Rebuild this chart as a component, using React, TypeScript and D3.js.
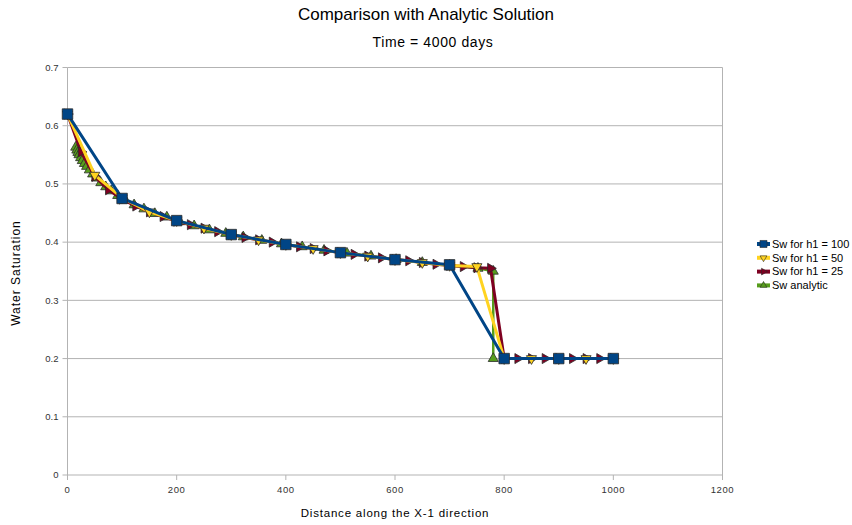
import React from "react";
import * as d3 from "d3";

const W = 852;
const H = 525;

const titleText = "Comparison with Analytic Solution";
const subtitleText = "Time = 4000 days";
const xLabel = "Distance along the X-1 direction";
const yLabel = "Water Saturation";

const xTicks = [0, 200, 400, 600, 800, 1000, 1200];
const yTicks = [0, 0.1, 0.2, 0.3, 0.4, 0.5, 0.6, 0.7];

// Grid block size h1 = 100
const xH100 = [0, 100, 200, 300, 400, 500, 600, 700, 800, 900, 1000];
const swH100 = [0.62, 0.475, 0.437, 0.413, 0.396, 0.382, 0.37, 0.361, 0.2, 0.2, 0.2];

// Grid block size h1 = 50
const xH50 = [0, 50, 100, 150, 200, 250, 300, 350, 400, 450, 500, 550, 600, 650, 700, 750, 800, 850, 900, 950, 1000];
const swH50 = [0.62, 0.515, 0.476, 0.452, 0.437, 0.424, 0.413, 0.404, 0.396, 0.389, 0.382, 0.376, 0.37, 0.365, 0.36, 0.358, 0.2, 0.2, 0.2, 0.2, 0.2];

// Grid block size h1 = 25
const xH25 = [0, 25, 50, 75, 100, 125, 150, 175, 200, 225, 250, 275, 300, 325, 350, 375, 400, 425, 450, 475, 500, 525, 550, 575, 600, 625, 650, 675, 700, 725, 750, 775, 800, 825, 850, 875, 900, 925, 950, 975, 1000];
const swH25 = [0.62, 0.555, 0.513, 0.49, 0.474, 0.462, 0.452, 0.444, 0.436, 0.43, 0.424, 0.418, 0.413, 0.408, 0.404, 0.4, 0.396, 0.392, 0.389, 0.385, 0.382, 0.379, 0.376, 0.373, 0.37, 0.368, 0.365, 0.362, 0.36, 0.358, 0.356, 0.355, 0.2, 0.2, 0.2, 0.2, 0.2, 0.2, 0.2, 0.2, 0.2];

// Analytic (Buckley-Leverett) profile
const xAnalytic = [15, 17, 19, 21, 24, 27, 31, 35, 40, 46, 53, 61, 70, 80, 92, 106, 122, 140, 160, 182, 206, 232, 260, 290, 322, 356, 392, 430, 470, 512, 556, 602, 650, 700, 752, 780, 780];
const swAnalytic = [0.563, 0.558, 0.554, 0.55, 0.545, 0.54, 0.535, 0.53, 0.524, 0.517, 0.51, 0.502, 0.495, 0.488, 0.48, 0.472, 0.464, 0.457, 0.449, 0.443, 0.435, 0.428, 0.421, 0.415, 0.409, 0.403, 0.397, 0.392, 0.386, 0.381, 0.376, 0.37, 0.365, 0.36, 0.355, 0.35, 0.2];

type Series = {
  name: string;
  xs: number[];
  ys: number[];
  color: string;
  symbol: d3.SymbolType;
  size: number;
  rotate: number;
  width: number;
};

const series: Series[] = [
  { name: "Sw for h1 = 100", xs: xH100, ys: swH100, color: "#004586", symbol: d3.symbolSquare, size: 110, rotate: 0, width: 3 },
  { name: "Sw for h1 = 50", xs: xH50, ys: swH50, color: "#ffd320", symbol: d3.symbolTriangle, size: 44, rotate: 180, width: 3 },
  { name: "Sw for h1 = 25", xs: xH25, ys: swH25, color: "#7e0021", symbol: d3.symbolTriangle, size: 44, rotate: 90, width: 3 },
  { name: "Sw analytic", xs: xAnalytic, ys: swAnalytic, color: "#579d1c", symbol: d3.symbolTriangle, size: 44, rotate: 0, width: 2.5 },
];

const x = d3.scaleLinear().domain([0, 1200]).range([67.5, 722.5]);
const y = d3.scaleLinear().domain([0, 0.7]).range([475, 67.5]);

const FONT = "'Liberation Sans', Arial, sans-serif";

export default function App() {
  const line = d3
    .line<[number, number]>()
    .x((d) => x(d[0]))
    .y((d) => y(d[1]));

  const drawOrder = [...series].reverse();

  return (
    <svg
      width={W}
      height={H}
      style={{ position: "absolute", left: 0, top: 0, background: "#fff" }}
      fontFamily={FONT}
    >
      <rect x={0} y={0} width={W} height={H} fill="#fff" />

      {/* horizontal grid */}
      {yTicks.map((t) => (
        <line key={"g" + t} x1={x(0)} x2={x(1200)} y1={y(t)} y2={y(t)} stroke="#b3b3b3" strokeWidth={1} />
      ))}
      {/* frame verticals */}
      <line x1={x(0)} x2={x(0)} y1={y(0.7)} y2={y(0) + 5} stroke="#b3b3b3" strokeWidth={1} />
      <line x1={x(1200)} x2={x(1200)} y1={y(0.7)} y2={y(0) + 5} stroke="#b3b3b3" strokeWidth={1} />

      {/* y ticks */}
      {yTicks.map((t) => (
        <g key={"yt" + t}>
          <line x1={x(0) - 5} x2={x(0)} y1={y(t)} y2={y(t)} stroke="#b3b3b3" />
          <text x={x(0) - 9} y={y(t)} dy="0.35em" textAnchor="end" fontSize={9.5} fill="#333">
            {t === 0 ? "0" : d3.format(".1f")(t)}
          </text>
        </g>
      ))}
      {/* x ticks */}
      {xTicks.map((t) => (
        <g key={"xt" + t}>
          <line x1={x(t)} x2={x(t)} y1={y(0)} y2={y(0) + 5} stroke="#b3b3b3" />
          <text x={x(t)} y={y(0) + 18} textAnchor="middle" fontSize={9.5} fill="#333" letterSpacing={0.6}>
            {t}
          </text>
        </g>
      ))}

      {/* series */}
      {drawOrder.map((s) => {
        const pts = s.xs.map((v, i) => [v, s.ys[i]] as [number, number]);
        const sym = d3.symbol().type(s.symbol).size(s.size)();
        return (
          <g key={s.name}>
            <path d={line(pts) || ""} fill="none" stroke={s.color} strokeWidth={s.width} strokeLinejoin="round" />
            {pts.map((p, i) => (
              <path
                key={i}
                d={sym || ""}
                transform={`translate(${x(p[0])},${y(p[1])}) rotate(${s.rotate})`}
                fill={s.color}
                stroke="#2a2a2a"
                strokeWidth={0.8}
              />
            ))}
          </g>
        );
      })}

      {/* titles */}
      <text x={426} y={20} textAnchor="middle" fontSize={17} fill="#000">
        {titleText}
      </text>
      <text x={433} y={47} textAnchor="middle" fontSize={14} fill="#000" letterSpacing={0.6}>
        {subtitleText}
      </text>
      <text x={395} y={517} textAnchor="middle" fontSize={11.5} fill="#000" letterSpacing={0.8}>
        {xLabel}
      </text>
      <text transform={`translate(20,273) rotate(-90)`} textAnchor="middle" fontSize={12} fill="#000" letterSpacing={1}>
        {yLabel}
      </text>

      {/* legend */}
      {series.map((s, i) => {
        const cy = 244 + i * 13.8;
        const sym = d3.symbol().type(s.symbol).size(s.size * 0.45)();
        return (
          <g key={"lg" + s.name}>
            <line x1={757} x2={770} y1={cy} y2={cy} stroke={s.color} strokeWidth={4} />
            <path
              d={sym || ""}
              transform={`translate(763.5,${cy}) rotate(${s.rotate})`}
              fill={s.color}
              stroke="#2a2a2a"
              strokeWidth={0.6}
            />
            <text x={772} y={cy} dy="0.35em" fontSize={11} fill="#000">
              {s.name}
            </text>
          </g>
        );
      })}
    </svg>
  );
}
